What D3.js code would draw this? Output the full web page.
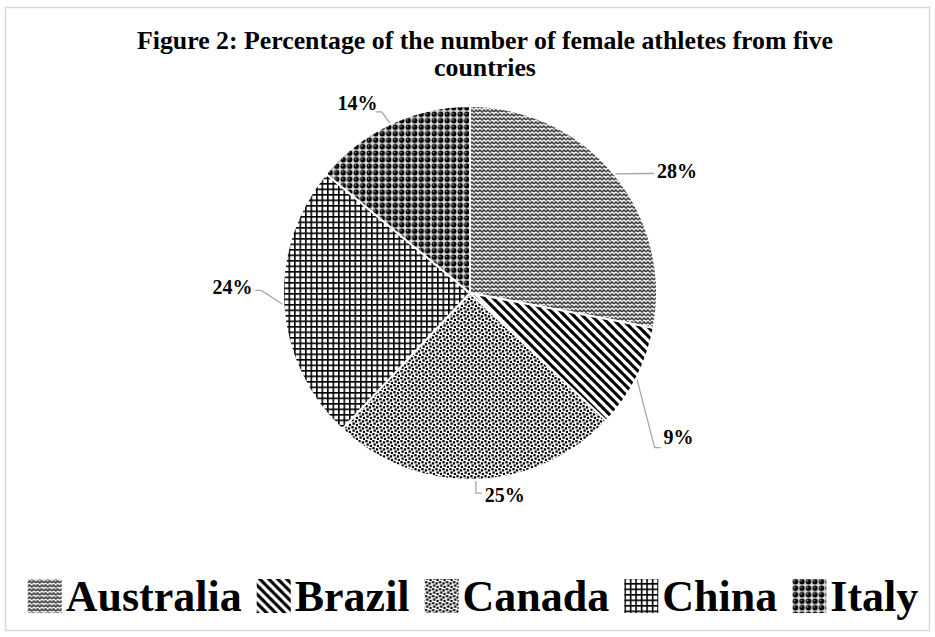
<!DOCTYPE html>
<html>
<head>
<meta charset="utf-8">
<script src="https://cdn.jsdelivr.net/npm/d3@7"></script>
<style>
  html, body { margin: 0; padding: 0; background: #fff; }
  svg { display: block; }
</style>
</head>
<body>
<svg id="chart" width="935" height="637"></svg>
<script>
// Female athletes by country (share of total, %)
const countries = ["Australia", "Brazil", "Canada", "China", "Italy"];
const shares = [28, 9, 25, 24, 14];
const titleLines = [
  "Figure 2: Percentage of the number of female athletes from five",
  "countries"
];

// Label placement: offset of each label centre from the slice's outer mid-point,
// and where on the label box the leader line attaches (fractions of the box).
const labelOffset = [[63, -3], [42, 59], [29, 15], [-51, -18], [-33, -21]];
const leaderAttach = [[0, 0.65], [0, 1.1], [0, 0.4], [1, 0.7], [0.9, 1.0]];

const W = 935, H = 637;
const svg = d3.select("#chart");
const defs = svg.append("defs");

// ---- fill patterns ----
function pat(id, size) {
  return defs.append("pattern")
    .attr("id", id).attr("patternUnits", "userSpaceOnUse")
    .attr("width", size).attr("height", size);
}
// zig-zag weave (gray)
{
  const p = pat("p0", 8);
  p.append("rect").attr("width", 8).attr("height", 8).attr("fill", "#fff");
  p.append("path")
    .attr("d", "M0,3 L2,1 L4,3 L6,1 L8,3 M0,7 L2,5 L4,7 L6,5 L8,7")
    .attr("fill", "none").attr("stroke", "#444").attr("stroke-width", 1.6);
  p.append("path")
    .attr("d", "M1,0 L1,1.5 M5,4 L5,5.5")
    .attr("fill", "none").attr("stroke", "#666").attr("stroke-width", 1.2);
}
// wide downward diagonal
{
  const p = pat("p1", 9);
  p.append("rect").attr("width", 9).attr("height", 9).attr("fill", "#fff");
  p.append("path")
    .attr("d", "M-1,-1 L10,10 M-1,8 L1,10 M8,-1 L10,1")
    .attr("fill", "none").attr("stroke", "#000").attr("stroke-width", 3.1);
}
// confetti dots
{
  const p = pat("p2", 7);
  p.append("rect").attr("width", 7).attr("height", 7).attr("fill", "#fff");
  [[1.5, 1.2], [5.0, 2.4], [2.6, 4.6], [6.0, 6.0]].forEach(([x, y]) =>
    p.append("rect").attr("x", x - 1.15).attr("y", y - 1.15)
      .attr("width", 2.3).attr("height", 2.3).attr("fill", "#000"));
}
// small grid
{
  const p = pat("p3", 5.5);
  p.append("rect").attr("width", 5.5).attr("height", 5.5).attr("fill", "#fff");
  p.append("path")
    .attr("d", "M0.8,0 L0.8,5.5 M0,0.8 L5.5,0.8")
    .attr("fill", "none").attr("stroke", "#000").attr("stroke-width", 1.6);
}
// spheres
{
  const p = pat("p4", 6.5);
  p.append("rect").attr("width", 6.5).attr("height", 6.5).attr("fill", "#d8d8d8");
  p.append("circle").attr("cx", 3.25).attr("cy", 3.25).attr("r", 2.7).attr("fill", "#000");
  p.append("circle").attr("cx", 2.4).attr("cy", 2.4).attr("r", 0.8).attr("fill", "#aaa");
}
const fills = countries.map((_, i) => `url(#p${i})`);

// ---- frame ----
svg.append("rect")
  .attr("x", 5.5).attr("y", 7.5).attr("width", 924).attr("height", 623)
  .attr("fill", "#fff").attr("stroke", "#d9d9d9").attr("stroke-width", 1.5);

// ---- title ----
const title = svg.append("g")
  .attr("font-family", "'Liberation Serif', 'Times New Roman', serif")
  .attr("font-weight", "bold").attr("font-size", 25).attr("fill", "#000");
const t1 = title.append("text").attr("x", 485).attr("y", 49)
  .attr("text-anchor", "middle").text(titleLines[0]);
const natural1 = t1.node().getComputedTextLength();
const squeeze = 696 / natural1;
t1.attr("textLength", 696).attr("lengthAdjust", "spacingAndGlyphs");
const t2 = title.append("text").attr("x", 485).attr("y", 76)
  .attr("text-anchor", "middle").text(titleLines[1]);
t2.attr("textLength", t2.node().getComputedTextLength() * squeeze)
  .attr("lengthAdjust", "spacingAndGlyphs");

// ---- pie ----
const cx = 470, cy = 293, R = 187;
const total = d3.sum(shares);
const pie = d3.pie().sort(null).value(d => d)(shares);
const arc = d3.arc().innerRadius(0).outerRadius(R);
const g = svg.append("g").attr("transform", `translate(${cx},${cy})`);

g.selectAll("path.slice").data(pie).join("path")
  .attr("class", "slice")
  .attr("d", arc)
  .attr("fill", (d, i) => fills[i])
  .attr("stroke", "#fff").attr("stroke-width", 2).attr("stroke-linejoin", "round");

// ---- data labels with leader lines ----
const labels = g.append("g")
  .attr("font-family", "'Liberation Serif', 'Times New Roman', serif")
  .attr("font-weight", "bold").attr("font-size", 20).attr("fill", "#000");

pie.forEach((d, i) => {
  const mid = (d.startAngle + d.endAngle) / 2;
  const ex = R * Math.sin(mid), ey = -R * Math.cos(mid);
  const lx = ex + labelOffset[i][0], ly = ey + labelOffset[i][1];
  const txt = labels.append("text")
    .attr("x", lx).attr("y", ly + 7)
    .attr("text-anchor", "middle")
    .text(Math.round(d.value / total * 100) + "%");
  const bb = txt.node().getBBox();
  const bx0 = bb.x - 3, bx1 = bb.x + bb.width + 3;
  const by0 = bb.y + 2, by1 = bb.y + bb.height - 2;
  const ax = bx0 + (bx1 - bx0) * leaderAttach[i][0];
  const ay = by0 + (by1 - by0) * leaderAttach[i][1];
  const stub = leaderAttach[i][0] < 0.5 ? -6 : 6;
  g.insert("path", ":first-child")
    .attr("d", d3.line()([[ex, ey], [ax + stub, ay], [ax, ay]]))
    .attr("fill", "none").attr("stroke", "#a6a6a6").attr("stroke-width", 1.3);
});
// keep slices above leader lines
g.selectAll("path.slice").raise();
labels.raise();

// ---- legend ----
const legend = svg.append("g")
  .attr("font-family", "'Liberation Serif', 'Times New Roman', serif")
  .attr("font-weight", "bold").attr("font-size", 44).attr("fill", "#000");
const sw = 34, swGap = 4, itemGap = 15;
const items = countries.map((name, i) => {
  const it = legend.append("g");
  it.append("rect").attr("width", sw).attr("height", sw).attr("y", 579)
    .attr("fill", fills[i]);
  const tx = it.append("text").attr("x", sw + swGap).attr("y", 611).text(name);
  return { it, w: sw + swGap + tx.node().getComputedTextLength() };
});
const legendW = d3.sum(items, d => d.w) + itemGap * (items.length - 1);
let xpos = 473 - legendW / 2;
items.forEach(d => {
  d.it.attr("transform", `translate(${xpos},0)`);
  xpos += d.w + itemGap;
});
</script>
</body>
</html>
